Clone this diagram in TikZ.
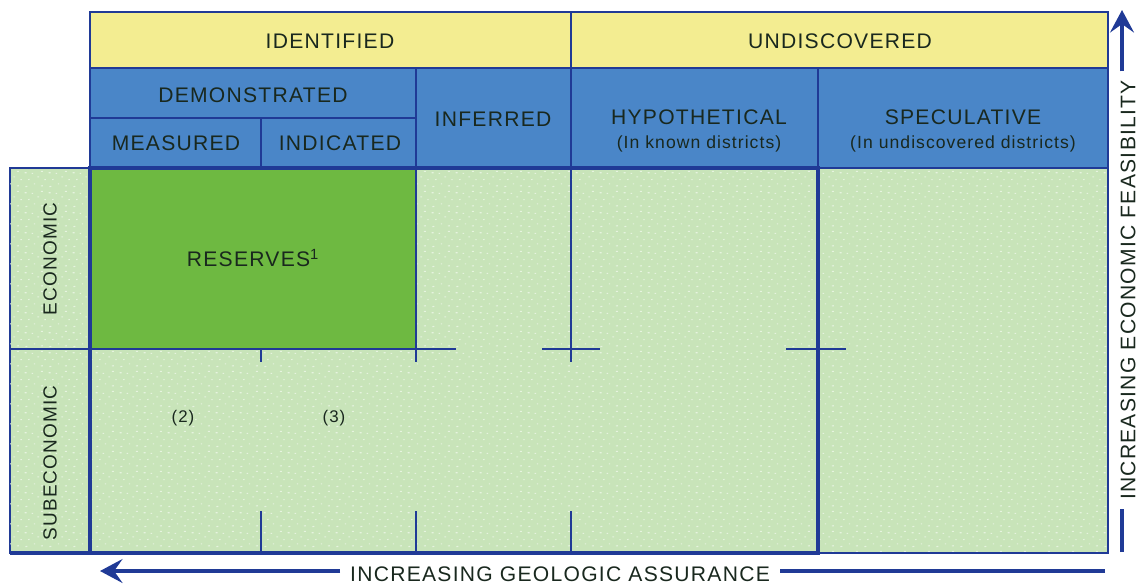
\documentclass[tikz,border=0pt]{standalone}
\usepackage{fontspec}
\setmainfont{Liberation Sans}[LetterSpace=6]
\usetikzlibrary{arrows.meta,patterns.meta}

\definecolor{hdryellow}{RGB}{243,237,145}
\definecolor{hdrblue}{RGB}{74,134,200}
\definecolor{resgreen}{RGB}{110,185,65}
\definecolor{palegreen}{RGB}{200,228,185}
\definecolor{gridblue}{RGB}{32,58,150}
\definecolor{txt}{RGB}{25,40,30}

\newcommand{\subsize}{\fontsize{12.5}{14}\selectfont}

% speckled ground
\tikzdeclarepattern{
  name=speckle,
  type=uncolored,
  bottom left={(0pt,0pt)},
  top right={(17pt,14pt)},
  tile size={(17pt,14pt)},
  code={
    \draw[line width=0.8pt] (1pt,1pt) -- (2.4pt,1.2pt)
      (7pt,3pt) -- (8pt,3pt) (12pt,1.5pt) -- (13.4pt,1.6pt)
      (3pt,6pt) -- (4pt,6.2pt) (9.5pt,8pt) -- (10.8pt,8pt)
      (14.5pt,6pt) -- (15.5pt,6pt) (0.5pt,11pt) -- (1.8pt,11pt)
      (5.5pt,10.5pt) -- (6.5pt,10.6pt) (12pt,12pt) -- (13.5pt,12pt);
  }
}

\tikzset{
  cell/.style={draw=gridblue, line width=1.4pt},
  heavy/.style={draw=gridblue, line width=2.4pt},
  tick/.style={draw=gridblue, line width=1.4pt},
  axis/.style={draw=gridblue, line width=2.3pt},
  speckled/.style={pattern=speckle, pattern color=white!55!palegreen},
  lbl/.style={font=\fontsize{15}{17}\selectfont, text=txt, inner sep=0pt},
  sidelbl/.style={font=\fontsize{13.5}{15}\selectfont, text=txt, inner sep=0pt, rotate=90},
}

\begin{document}
\begin{tikzpicture}[x=0.025cm,y=-0.025cm]
    \useasboundingbox (0,0) rectangle (1141,587);

    % header, first row
    \draw[cell, fill=hdryellow] (90,12) rectangle (571,68);
    \draw[cell, fill=hdryellow] (571,12) rectangle (1108,68);
    \node[lbl] (identified) at (330,41) {IDENTIFIED};
    \node[lbl] (undiscovered) at (840,41) {UNDISCOVERED};

    % header, second row
    \draw[cell, fill=hdrblue] (90,68) rectangle (416,118);
    \draw[cell, fill=hdrblue] (90,118) rectangle (261,168);
    \draw[cell, fill=hdrblue] (261,118) rectangle (416,168);
    \draw[cell, fill=hdrblue] (416,68) rectangle (571,168);
    \draw[cell, fill=hdrblue] (571,68) rectangle (818,168);
    \draw[cell, fill=hdrblue] (818,68) rectangle (1108,168);
    \node[lbl] (demonstrated) at (253,95) {DEMONSTRATED};
    \node[lbl] (measured) at (176,143) {MEASURED};
    \node[lbl] (indicated) at (340,143) {INDICATED};
    \node[lbl] (inferred) at (493,119) {INFERRED};
    \node[lbl, align=center] (hypothetical) at (699,131)
        {HYPOTHETICAL\\[0pt]{\subsize (In known districts)}};
    \node[lbl, align=center] (speculative) at (963,131)
        {SPECULATIVE\\[0pt]{\subsize (In undiscovered districts)}};

    % side column
    \draw[cell, fill=palegreen] (10,168) rectangle (90,349);
    \draw[cell, fill=palegreen] (10,349) rectangle (90,553);
    \fill[speckled] (10,168) rectangle (90,553);
    \node[sidelbl] (economic) at (50,259) {ECONOMIC};
    \node[sidelbl] (subeconomic) at (50,463) {SUBECONOMIC};

    % resource field
    \fill[palegreen] (90,168) rectangle (1108,553);
    \fill[speckled] (90,168) rectangle (1108,553);
    \draw[cell, line width=1.2pt] (818,168) rectangle (1108,553);
    \draw[cell, fill=resgreen] (90,168) rectangle (416,349);
    \node[lbl] (reserves) at (253,258) {RESERVES\textsuperscript{1}};
    \node[lbl, font=\fontsize{12}{14}\selectfont] (sub2) at (183,418) {(2)};
    \node[lbl, font=\fontsize{12}{14}\selectfont] (sub3) at (334,418) {(3)};

    % ticks
    \draw[tick] (571,168) -- (571,362);
    \draw[tick] (416,349) -- (416,362);
    \draw[tick] (261,349) -- (261,362);
    \draw[tick] (416,349) -- (456,349);
    \draw[tick] (542,349) -- (600,349);
    \draw[tick] (786,349) -- (846,349);
    \foreach \x in {261,416,571}
        \draw[tick] (\x,511) -- (\x,553);

    % heavy box
    \draw[heavy] (90,168) rectangle (818,553);
    \draw[heavy] (10,553) -- (90,553);

    % axes
    \coordinate (geoA) at (1105,571);
    \coordinate (geoB) at (100,571);
    \node[lbl, inner xsep=7pt] (geolabel) at (560,574) {INCREASING GEOLOGIC ASSURANCE};
    \draw[axis] (geoA) -- (geolabel.east |- geoA);
    \draw[axis, -{Stealth[length=16pt, width=17pt, inset=6pt]}] (geolabel.west |- geoB) -- (geoB);

    \coordinate (ecoA) at (1122,552);
    \coordinate (ecoB) at (1122,10);
    \node[lbl, rotate=90, inner xsep=6pt] (ecolabel) at (1128,290) {INCREASING ECONOMIC FEASIBILITY};
    \draw[axis] (ecoA) -- (ecolabel.west -| ecoA);
    \draw[axis, -{Stealth[length=16pt, width=17pt, inset=6pt]}] (ecolabel.east -| ecoB) -- (ecoB);
\end{tikzpicture}
\end{document}
